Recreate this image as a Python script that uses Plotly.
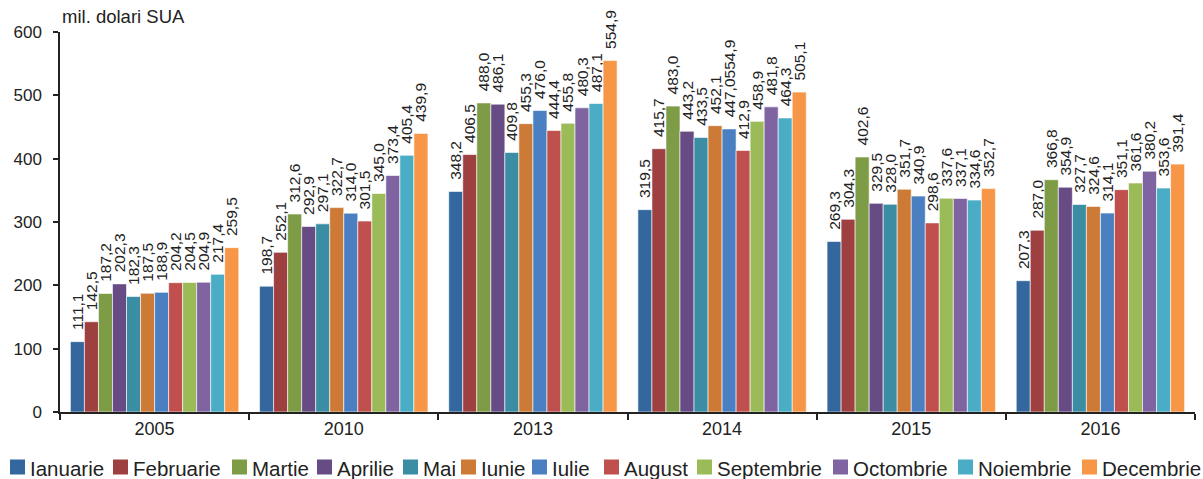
import plotly.graph_objects as go

years = ["2005", "2010", "2013", "2014", "2015", "2016"]
months = ["Ianuarie", "Februarie", "Martie", "Aprilie", "Mai", "Iunie", "Iulie",
          "August", "Septembrie", "Octombrie", "Noiembrie", "Decembrie"]
colors = ["#33679d", "#9e3f40", "#7e9b46", "#664b85", "#3a8da3", "#cc7a36",
          "#4a80c2", "#c0504d", "#9bbb59", "#8064a2", "#4bacc6", "#f79646"]

# values per month for [2005, 2010, 2013, 2014, 2015, 2016]
ianuarie = [111.1, 198.7, 348.2, 319.5, 269.3, 207.3]
februarie = [142.5, 252.1, 406.5, 415.7, 304.3, 287.0]
martie = [187.2, 312.6, 488.0, 483.0, 402.6, 366.8]
aprilie = [202.3, 292.9, 486.1, 443.2, 329.5, 354.9]
mai = [182.3, 297.1, 409.8, 433.5, 328.0, 327.7]
iunie = [187.5, 322.7, 455.3, 452.1, 351.7, 324.6]
iulie = [188.9, 314.0, 476.0, 447.0, 340.9, 314.1]
august = [204.2, 301.5, 444.4, 412.9, 298.6, 351.1]
septembrie = [204.5, 345.0, 455.8, 458.9, 337.6, 361.6]
octombrie = [204.9, 373.4, 480.3, 481.8, 337.1, 380.2]
noiembrie = [217.4, 405.4, 487.1, 464.3, 334.6, 353.6]
decembrie = [259.5, 439.9, 554.9, 505.1, 352.7, 391.4]

series = [ianuarie, februarie, martie, aprilie, mai, iunie, iulie,
          august, septembrie, octombrie, noiembrie, decembrie]

# label text as printed in the source (one label runs into a stray value)
label_overrides = {("Iulie", "2014"): "447,0554,9"}

# legend layout (pixel x of each swatch's left edge)
legend_px = [10, 113, 232, 317, 403, 461, 532, 604, 697, 833, 958, 1082]

W, H = 1203, 479
ML, MR, MT, MB = 60, 8, 32, 67
PW, PH = W - ML - MR, H - MT - MB


def px_to_paper_x(px):
    return (px - ML) / PW


def py_to_paper_y(py):
    return (H - MB - py) / PH


PAD = "\u00a0\u00a0"


def fmt(v):
    return f"{v:.1f}".replace(".", ",")


FONT = "Liberation Sans, Arial, sans-serif"

fig = go.Figure()
for name, vals, col in zip(months, series, colors):
    texts = [PAD + label_overrides.get((name, y), fmt(v)) for y, v in zip(years, vals)]
    fig.add_trace(go.Bar(
        x=years, y=vals, name=name,
        marker=dict(color=col, line=dict(color="white", width=0.6)),
        text=texts, textposition="outside", textangle=-90,
        constraintext="none", cliponaxis=False,
        textfont=dict(family=FONT, size=15.5, color="#222222"),
        hoverinfo="x+y+name",
    ))

shapes = []
annotations = [dict(text="mil. dolari SUA", xref="paper", yref="paper",
                    x=0, y=1, xanchor="left", yanchor="bottom", yshift=3,
                    showarrow=False, font=dict(size=18.5, family=FONT, color="#222222"))]
leg_cy = 467
for name, col, px in zip(months, colors, legend_px):
    shapes.append(dict(type="rect", xref="paper", yref="paper",
                       x0=px_to_paper_x(px), x1=px_to_paper_x(px + 15),
                       y0=py_to_paper_y(leg_cy + 7.5), y1=py_to_paper_y(leg_cy - 7.5),
                       fillcolor=col, line=dict(width=0)))
    annotations.append(dict(text=name, xref="paper", yref="paper",
                            x=px_to_paper_x(px + 18), y=py_to_paper_y(leg_cy + 1),
                            xanchor="left", yanchor="middle", showarrow=False,
                            font=dict(size=20.5, family=FONT, color="#222222")))

fig.update_layout(
    width=W, height=H,
    margin=dict(l=ML, r=MR, t=MT, b=MB),
    barmode="group", bargap=0.11, bargroupgap=0,
    plot_bgcolor="white", paper_bgcolor="white",
    font=dict(family=FONT, size=17, color="#222222"),
    showlegend=False,
    xaxis=dict(showline=True, linecolor="#222222", linewidth=1.5,
               ticks="outside", tickson="boundaries", ticklen=6,
               tickcolor="#222222", tickwidth=1.5, tickfont=dict(size=18),
               showgrid=False),
    yaxis=dict(range=[0, 600], dtick=100, showline=True, linecolor="#222222",
               linewidth=1.5, ticks="outside", ticklen=5, tickcolor="#222222",
               tickwidth=1.5, tickfont=dict(size=17), showgrid=False,
               zeroline=False, ticklabelstandoff=8),
    shapes=shapes,
    annotations=annotations,
)

fig.write_html("out.html", config={"displayModeBar": False})

# remove the browser's default page margin so the figure sits at (0, 0)
with open("out.html", encoding="utf-8") as f:
    html = f.read()
html = html.replace("<head>", "<head><style>html,body{margin:0;padding:0;overflow:hidden;}</style>", 1)
with open("out.html", "w", encoding="utf-8") as f:
    f.write(html)
